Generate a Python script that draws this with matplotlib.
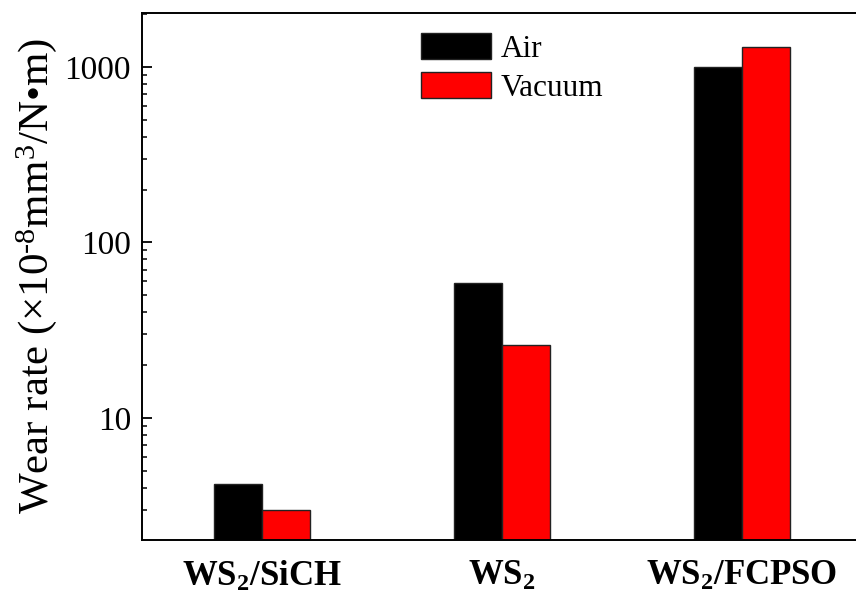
import numpy as np
import matplotlib
matplotlib.use("Agg")
import matplotlib.pyplot as plt
from matplotlib.ticker import LogLocator, NullFormatter, FixedLocator, FixedFormatter

plt.rcParams['font.family'] = ['Liberation Serif', 'DejaVu Serif']
plt.rcParams['mathtext.fontset'] = 'custom'
plt.rcParams['mathtext.rm'] = 'Liberation Serif'
plt.rcParams['mathtext.it'] = 'Liberation Serif:italic'
plt.rcParams['mathtext.bf'] = 'Liberation Serif:bold'

# data
categories = [r'$\mathbf{WS_2/SiCH}$', r'$\mathbf{WS_2}$', r'$\mathbf{WS_2/FCPSO}$']
air = [4.2, 59, 1000]
vacuum = [3.0, 26, 1300]
series_names = ['Air', 'Vacuum']
ytick_vals = [10, 100, 1000]
ytick_labels = ['10', '100', '1000']

fig = plt.figure(figsize=(8.56, 5.99), dpi=100)
ax = fig.add_axes([0.1659, 0.0985, 0.841, 0.880])

x = np.arange(len(categories))
w = 0.2
ax.bar(x - w / 2, air, w, color='black', edgecolor='#222222', linewidth=1, label=series_names[0])
ax.bar(x + w / 2, vacuum, w, color='#ff0000', edgecolor='#222222', linewidth=1, label=series_names[1])

ax.set_yscale('log')
ax.set_ylim(2.02, 2030)
ax.set_xlim(-0.5, 2.5)

ax.yaxis.set_major_locator(FixedLocator(ytick_vals))
ax.yaxis.set_major_formatter(FixedFormatter(ytick_labels))
ax.yaxis.set_minor_locator(LogLocator(base=10, subs=np.arange(2, 10)))
ax.yaxis.set_minor_formatter(NullFormatter())
ax.tick_params(axis='y', which='major', direction='in', length=7, width=1.3,
               labelsize=24, pad=8)
ax.tick_params(axis='y', which='minor', direction='in', length=3.5, width=1.1)

ax.set_xticks(x)
ax.set_xticklabels(categories)
ax.tick_params(axis='x', length=0, labelsize=25, pad=14)

for s in ax.spines.values():
    s.set_linewidth(1.4)

ax.set_ylabel('Wear rate (×10$^{\\mathrm{‐8}}$mm$^3$/N•m)', fontsize=31, labelpad=4)

ax.legend(loc='upper left', bbox_to_anchor=(0.37, 0.985), frameon=False,
          fontsize=22.5, handlelength=2.25, handleheight=0.9, labelspacing=0.25,
          handletextpad=0.3, borderaxespad=0)

fig.savefig('out.png', dpi=100)
